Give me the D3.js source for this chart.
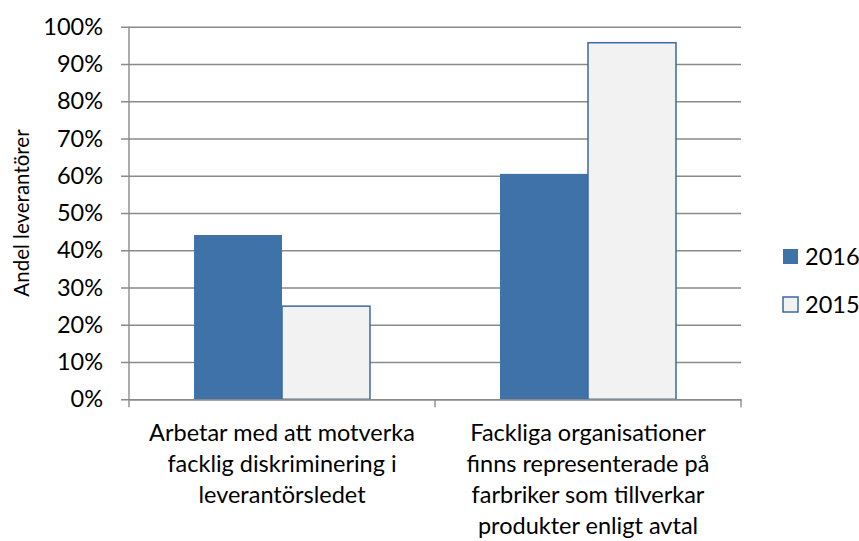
<!DOCTYPE html>
<html>
<head>
<meta charset="utf-8">
<script src="https://cdn.jsdelivr.net/npm/d3@7"></script>
<style>
  body { margin: 0; background: #fff; }
  svg { display: block; font-family: Lato, "Open Sans", sans-serif; }
</style>
</head>
<body>
<div id="chart"></div>
<script>
// categories (each one is a list of label lines)
var categories = [
    ["Arbetar med att motverka", "facklig diskriminering i", "leverantörsledet"],
    ["Fackliga organisationer", "finns representerade på", "farbriker som tillverkar", "produkter enligt avtal"]
];
var seriesNames = ["2016", "2015"];
var values2016 = [0.441, 0.605];
var values2015 = [0.250, 0.957];
var yTicks = [0, 0.1, 0.2, 0.3, 0.4, 0.5, 0.6, 0.7, 0.8, 0.9, 1.0];
var yTitle = "Andel leverantörer";

var W = 859, H = 541;
var margin = {top: 26.7, left: 129, right: 118, bottom: 141.7};
var width = W - margin.left - margin.right;
var height = H - margin.top - margin.bottom;

var svg = d3.select("#chart").append("svg")
    .attr("width", W)
    .attr("height", H);

var g = svg.append("g")
    .attr("transform", "translate(" + margin.left + "," + margin.top + ")");

var catKeys = categories.map(function(d, i) { return i; });
var x0 = d3.scaleBand().domain(catKeys).range([0, width]).padding(0);
var x1 = d3.scaleBand().domain(seriesNames).range([0, x0.bandwidth()])
    .paddingInner(0).paddingOuter(0.739);
var y = d3.scaleLinear().domain([0, 1]).range([height, 0]);

var grey = "#8a8a8a";
var fontSize = 23.5;

// gridlines + y axis
var yAxis = d3.axisLeft(y).tickValues(yTicks)
    .tickFormat(d3.format(".0%"))
    .tickSize(-width).tickPadding(26);
var ya = g.append("g").attr("class", "y axis").call(yAxis);
ya.select(".domain").remove();
ya.selectAll(".tick line")
    .attr("x1", -8)
    .attr("stroke", grey).attr("stroke-width", 1.4);
ya.selectAll(".tick text")
    .attr("fill", "#000").attr("font-size", fontSize)
    .attr("font-family", "Lato, sans-serif");

g.append("line")
    .attr("x1", 0).attr("x2", 0)
    .attr("y1", 0).attr("y2", height)
    .attr("stroke", grey).attr("stroke-width", 1.4);

// bars
var data = catKeys.map(function(i) {
    return {cat: i, vals: [
        {s: "2016", v: values2016[i]},
        {s: "2015", v: values2015[i]}
    ]};
});

var groups = g.selectAll("g.grp").data(data).enter().append("g")
    .attr("class", "grp")
    .attr("transform", function(d) { return "translate(" + x0(d.cat) + ",0)"; });

groups.selectAll("rect").data(function(d) { return d.vals; }).enter().append("rect")
    .attr("x", function(d) { return x1(d.s); })
    .attr("width", x1.bandwidth())
    .attr("y", function(d) { return y(d.v); })
    .attr("height", function(d) { return height - y(d.v); })
    .attr("fill", function(d) { return d.s === "2016" ? "#4072aa" : "#f2f2f2"; })
    .attr("stroke", function(d) { return d.s === "2016" ? "none" : "#3d68a0"; })
    .attr("stroke-width", 1.5);

// x axis
var xAxis = d3.axisBottom(x0).tickSize(0).tickFormat("");
var xa = g.append("g").attr("transform", "translate(0," + height + ")").call(xAxis);
xa.select(".domain").attr("stroke", grey).attr("stroke-width", 1.4);
// category separator ticks
var sepTicks = [0, x0.bandwidth(), width];
xa.selectAll("line.sep").data(sepTicks).enter().append("line")
    .attr("class", "sep")
    .attr("x1", function(d) { return d; }).attr("x2", function(d) { return d; })
    .attr("y1", 0).attr("y2", 8)
    .attr("stroke", grey).attr("stroke-width", 1.4);

// category labels
var lineH = 31;
var labels = g.selectAll("text.cat").data(data).enter().append("text")
    .attr("class", "cat")
    .attr("text-anchor", "middle")
    .attr("font-size", fontSize)
    .attr("fill", "#000")
    .attr("transform", function(d) {
        return "translate(" + (x0(d.cat) + x0.bandwidth() / 2) + "," + (height + 42) + ")";
    });
labels.selectAll("tspan").data(function(d) { return categories[d.cat]; }).enter().append("tspan")
    .attr("x", 0)
    .attr("y", function(d, i) { return i * lineH; })
    .text(function(d) { return d; });

// y title
svg.append("text")
    .attr("transform", "translate(29," + (margin.top + height / 2) + ") rotate(-90)")
    .attr("text-anchor", "middle")
    .attr("font-size", 20.5)
    .attr("fill", "#000")
    .text(yTitle);

// legend
var legend = svg.append("g").attr("transform", "translate(783,249)");
var li = legend.selectAll("g").data(seriesNames).enter().append("g")
    .attr("transform", function(d, i) { return "translate(0," + (i * 48) + ")"; });
li.append("rect")
    .attr("width", 15).attr("height", 15)
    .attr("fill", function(d) { return d === "2016" ? "#4072aa" : "#f2f2f2"; })
    .attr("stroke", function(d) { return d === "2016" ? "none" : "#3d68a0"; })
    .attr("stroke-width", 1.5);
li.append("text")
    .attr("x", 22).attr("y", 15.5)
    .attr("font-size", fontSize)
    .attr("fill", "#000")
    .text(function(d) { return d; });
</script>
</body>
</html>
